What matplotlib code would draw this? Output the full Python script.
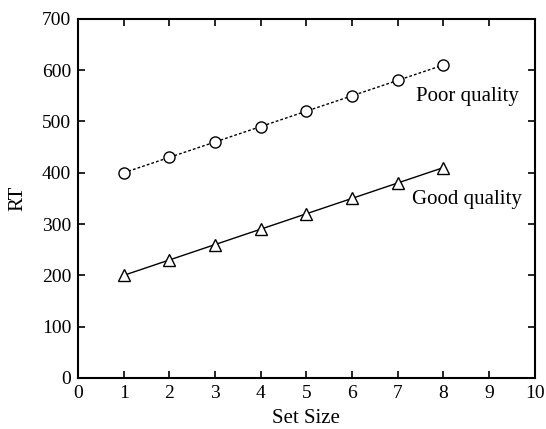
import numpy as np
import matplotlib.pyplot as plt

plt.rcParams['font.family'] = ['Liberation Serif', 'DejaVu Serif']

set_size = [1, 2, 3, 4, 5, 6, 7, 8]
rt_poor = [400, 430, 460, 490, 520, 550, 580, 610]
rt_good = [200, 230, 260, 290, 320, 350, 380, 410]

fig = plt.figure(figsize=(5.46, 4.29), dpi=100)
ax = fig.add_axes([0.143, 0.119, 0.836, 0.837])

ax.plot(set_size, rt_poor, color='black', linestyle=(0, (2, 1.5)), linewidth=1.0,
        marker='o', markersize=8, markerfacecolor='white', markeredgecolor='black',
        markeredgewidth=1.0)
ax.plot(set_size, rt_good, color='black', linestyle='-', linewidth=1.0,
        marker='^', markersize=8, markerfacecolor='white', markeredgecolor='black',
        markeredgewidth=1.0)

ax.text(7.4, 548, 'Poor quality', fontsize=15, va='center', ha='left')
ax.text(7.32, 347, 'Good quality', fontsize=15, va='center', ha='left')

ax.set_xlim(0, 10)
ax.set_ylim(0, 700)
ax.set_xticks(range(0, 11))
ax.set_yticks(range(0, 701, 100))
ax.tick_params(direction='in', top=True, right=True, labelsize=14, length=5, width=1.2, pad=5)
for s in ax.spines.values():
    s.set_linewidth(1.5)

ax.set_xlabel('Set Size', fontsize=15, labelpad=5)
ax.set_ylabel('RT', fontsize=15, labelpad=10)

fig.savefig('out.png', dpi=100)
